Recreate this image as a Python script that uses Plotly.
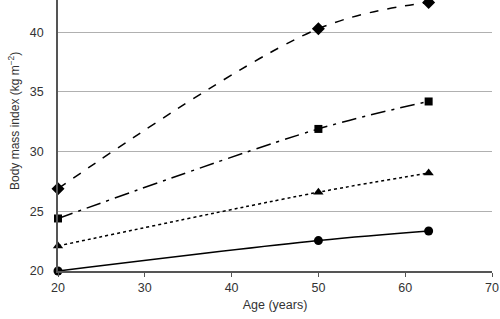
import plotly.graph_objects as go

ages = [20, 50, 62.7]
bmi_circle = [20.0, 22.55, 23.35]
bmi_triangle = [22.1, 26.6, 28.2]
bmi_square = [24.4, 31.9, 34.2]
bmi_diamond = [26.9, 40.3, 42.5]

series = [
    (bmi_diamond, "diamond", "dash", 10),
    (bmi_square, "square", "longdashdot", 8),
    (bmi_triangle, "triangle-up", "dot", 9),
    (bmi_circle, "circle", "solid", 9),
]

W, H = 500, 319
ML, MR, MT, MB = 58, 8, 0, 48

fig = go.Figure()
for vals, sym, dash, size in series:
    fig.add_trace(go.Scatter(
        x=ages, y=vals, mode="lines+markers",
        line=dict(color="black", width=1.5, dash=dash, shape="spline", smoothing=1.0),
        marker=dict(symbol=sym, size=size, color="black"),
        cliponaxis=False, showlegend=False,
    ))

plot_h = H - MT - MB
ytitle_frac = (H - MB - 121) / plot_h

fig.update_layout(
    width=W, height=H,
    margin=dict(l=ML, r=MR, t=MT, b=MB, autoexpand=False),
    paper_bgcolor="white", plot_bgcolor="white",
    font=dict(family="Liberation Sans, Arial, sans-serif", size=12, color="#333"),
    annotations=[dict(
        text="Body mass index (kg m<sup>−2</sup>)", textangle=-90,
        xref="paper", yref="paper", x=-(ML - 14) / (W - ML - MR), y=ytitle_frac,
        xanchor="center", yanchor="middle", showarrow=False,
        font=dict(size=12, color="#333"),
    )],
)
fig.update_xaxes(
    range=[20, 70], tickvals=[20, 30, 40, 50, 60, 70],
    showgrid=False, zeroline=False, automargin=False,
    showline=True, linecolor="#555", linewidth=1.5,
    ticks="outside", ticklen=4, tickcolor="#555",
    tickfont=dict(size=12.5),
    title=dict(text="Age (years)", standoff=6, font=dict(size=12.5)),
)
fig.update_yaxes(
    range=[20, 42.7], tickvals=[20, 25, 30, 35, 40],
    showgrid=True, gridcolor="#b0b0b0", gridwidth=1, zeroline=False, automargin=False,
    showline=True, linecolor="#555", linewidth=1.5,
    ticks="", ticklabelstandoff=10,
    tickfont=dict(size=12.5),
)
fig.write_html("out.html", config={"displayModeBar": False},
               post_script="document.body.style.margin='0';")
